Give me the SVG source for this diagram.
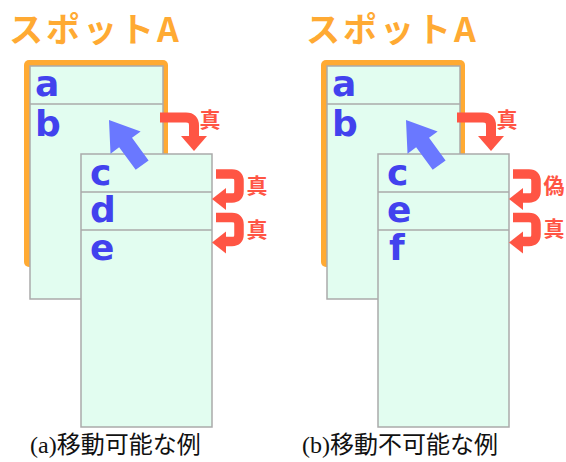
<svg xmlns="http://www.w3.org/2000/svg" width="566" height="462" viewBox="0 0 566 462">
<style>
.title{font-family:"Noto Sans CJK JP","Noto Sans",sans-serif;font-weight:bold;font-size:34px;fill:#ffaa33;letter-spacing:3px}
.frame{fill:#ffaa33}
.card{fill:#e2fdf0;stroke:#aaaaaa;stroke-width:1.5}
.div{stroke:#aaaaaa;stroke-width:1.5}
.ltr{font-family:"DejaVu Sans",sans-serif;font-weight:bold;font-size:36px;fill:#4242ee}
.lbl{font-family:"Noto Sans CJK JP",sans-serif;font-weight:bold;font-size:21px;fill:#ff5544;text-anchor:middle}
.rbar{fill:none;stroke:#ff5544;stroke-width:10}
.rhead{fill:#ff5544}
.blue{fill:#6a78ff}
.cap{font-family:"Liberation Serif","Noto Sans CJK JP",serif;font-size:24px;fill:#111111}
</style>
<defs>
<polygon id="bluearrow" class="blue" points="0,0 28,-18.7 28,-8 56,-8 56,8 28,8 28,18.7"/>
</defs>

<!-- Panel (a) -->
<g id="panel-a">
  <text class="title" x="9" y="42">スポットA</text>
  <g id="spot-a-frame">
    <rect class="frame" x="24" y="60" width="144" height="207" rx="5"/>
  </g>
  <g id="card-a-back">
    <rect class="card" x="30" y="66" width="133" height="233"/>
    <line class="div" x1="30" y1="104" x2="163" y2="104"/>
    <text class="ltr" x="35" y="96">a</text>
    <text class="ltr" x="35" y="136">b</text>
  </g>
  <g id="card-a-front">
    <rect class="card" x="81" y="154" width="131" height="273"/>
    <line class="div" x1="81" y1="192" x2="212" y2="192"/>
    <line class="div" x1="81" y1="230" x2="212" y2="230"/>
    <text class="ltr" x="90" y="185">c</text>
    <text class="ltr" x="90" y="222">d</text>
    <text class="ltr" x="90" y="260">e</text>
  </g>
</g>

<!-- Panel (b) -->
<g id="panel-b">
  <text class="title" x="306" y="42">スポットA</text>
  <g id="spot-b-frame">
    <rect class="frame" x="321" y="60" width="144" height="207" rx="5"/>
  </g>
  <g id="card-b-back">
    <rect class="card" x="327" y="66" width="133" height="233"/>
    <line class="div" x1="327" y1="104" x2="460" y2="104"/>
    <text class="ltr" x="332" y="96">a</text>
    <text class="ltr" x="332" y="136">b</text>
  </g>
  <g id="card-b-front">
    <rect class="card" x="378" y="154" width="131" height="273"/>
    <line class="div" x1="378" y1="192" x2="509" y2="192"/>
    <line class="div" x1="378" y1="230" x2="509" y2="230"/>
    <text class="ltr" x="387" y="185">c</text>
    <text class="ltr" x="387" y="222">e</text>
    <text class="ltr" x="389" y="260">f</text>
  </g>
</g>

<!-- Connectors -->
<g id="connectors">
  <!-- panel a -->
  <use href="#bluearrow" transform="translate(109,120) rotate(53.7)"/>
  <path class="rbar" d="M160,117.5 H186 Q194,117.5 194,125.5 V138"/>
  <polygon class="rhead" points="181,136 207,136 194,151"/>
  <path class="rbar" style="stroke-width:9.5" d="M216,174 H232 Q239,174 239,181 V191 Q239,198 232,198 H224"/>
  <polygon class="rhead" points="212,199 226,188 226,210"/>
  <path class="rbar" style="stroke-width:9.5" d="M216,217.5 H232 Q239,217.5 239,224.5 V234.5 Q239,241.5 232,241.5 H224"/>
  <polygon class="rhead" points="212,242.5 226,231.5 226,253.5"/>
  <!-- panel b -->
  <use href="#bluearrow" transform="translate(406,120) rotate(53.7)"/>
  <path class="rbar" d="M457,117.5 H483 Q491,117.5 491,125.5 V138"/>
  <polygon class="rhead" points="478,136 504,136 491,151"/>
  <path class="rbar" style="stroke-width:9.5" d="M513,174 H529 Q536,174 536,181 V191 Q536,198 529,198 H521"/>
  <polygon class="rhead" points="509,199 523,188 523,210"/>
  <path class="rbar" style="stroke-width:9.5" d="M513,217.5 H529 Q536,217.5 536,224.5 V234.5 Q536,241.5 529,241.5 H521"/>
  <polygon class="rhead" points="509,242.5 523,231.5 523,253.5"/>
</g>

<!-- Connector labels -->
<g id="labels">
  <text class="lbl" x="210" y="127">真</text>
  <text class="lbl" x="257" y="193">真</text>
  <text class="lbl" x="257" y="237">真</text>
  <text class="lbl" x="507" y="127">真</text>
  <text class="lbl" x="554" y="193">偽</text>
  <text class="lbl" x="554" y="236">真</text>
</g>

<!-- Captions -->
<text class="cap" x="30" y="453">(a)移動可能な例</text>
<text class="cap" x="302" y="453">(b)移動不可能な例</text>
</svg>
